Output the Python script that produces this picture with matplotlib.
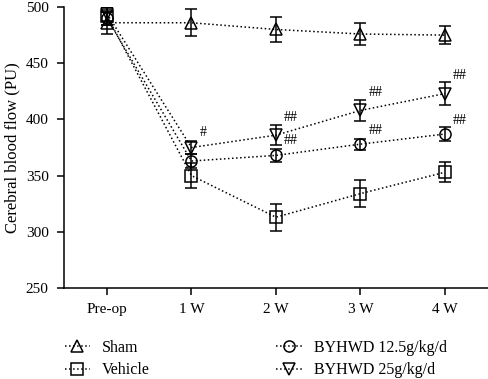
import numpy as np
import matplotlib
matplotlib.use("Agg")
import matplotlib.pyplot as plt

plt.rcParams['font.family'] = ['Liberation Serif', 'DejaVu Serif']

weeks = ['Pre-op', '1 W', '2 W', '3 W', '4 W']

sham = [486, 486, 480, 476, 475]
sham_err = [10, 12, 11, 10, 8]
vehicle = [492, 350, 313, 334, 353]
vehicle_err = [8, 11, 12, 12, 9]
low_dose = [490, 363, 368, 378, 387]
low_err = [6, 6, 6, 5, 6]
high_dose = [494, 375, 386, 408, 423]
high_err = [6, 6, 9, 9, 10]

# significance marks: (x index, y value, text)
marks = [(1, 388, '#'), (2, 402, '##'), (2, 381, '##'),
         (3, 424, '##'), (3, 390, '##'), (4, 439, '##'), (4, 399, '##')]

fig = plt.figure(figsize=(4.88, 3.79), dpi=100)
ax = fig.add_axes([0.131, 0.24, 0.869, 0.7415])

x = np.arange(len(weeks))
series = [
    (sham, sham_err, '^', 'Sham'),
    (vehicle, vehicle_err, 's', 'Vehicle'),
    (low_dose, low_err, 'o', 'BYHWD 12.5g/kg/d'),
    (high_dose, high_err, 'v', 'BYHWD 25g/kg/d'),
]
handles = []
for vals, err, m, lab in series:
    ax.errorbar(x, vals, yerr=err, fmt='none', ecolor='black',
                elinewidth=1.1, capsize=4.5, capthick=1.1)
    h, = ax.plot(x, vals, linestyle=':', color='black', lw=1.1,
                 marker=m, markersize=9 if m in '^v' else 8,
                 markerfacecolor='none', markeredgecolor='black',
                 markeredgewidth=1.1, label=lab)
    handles.append(h)

for xi, yv, t in marks:
    off = 0.14 if t == '#' else 0.18
    ax.text(xi + off, yv, t, fontsize=10, ha='center', va='center')

ax.set_xlim(-0.51, 4.51)
ax.set_ylim(250, 500)
ax.set_yticks([250, 300, 350, 400, 450, 500])
ax.set_xticks(x)
ax.set_xticklabels(weeks)
ax.spines['top'].set_visible(False)
ax.spines['right'].set_visible(False)
ax.spines['left'].set_linewidth(1.1)
ax.spines['bottom'].set_linewidth(1.1)
ax.tick_params(direction='out', length=5, width=1.1, labelsize=11, pad=6)
ax.set_ylabel('Cerebral blood flow (PU)', fontsize=12, labelpad=4)

fig.legend(handles=handles, ncol=2, loc='lower left',
           bbox_to_anchor=(0.103, -0.036), frameon=False, fontsize=11.5,
           handlelength=1.6, columnspacing=7.9, labelspacing=0.42,
           handletextpad=0.75)

fig.savefig('out.png', dpi=100)
